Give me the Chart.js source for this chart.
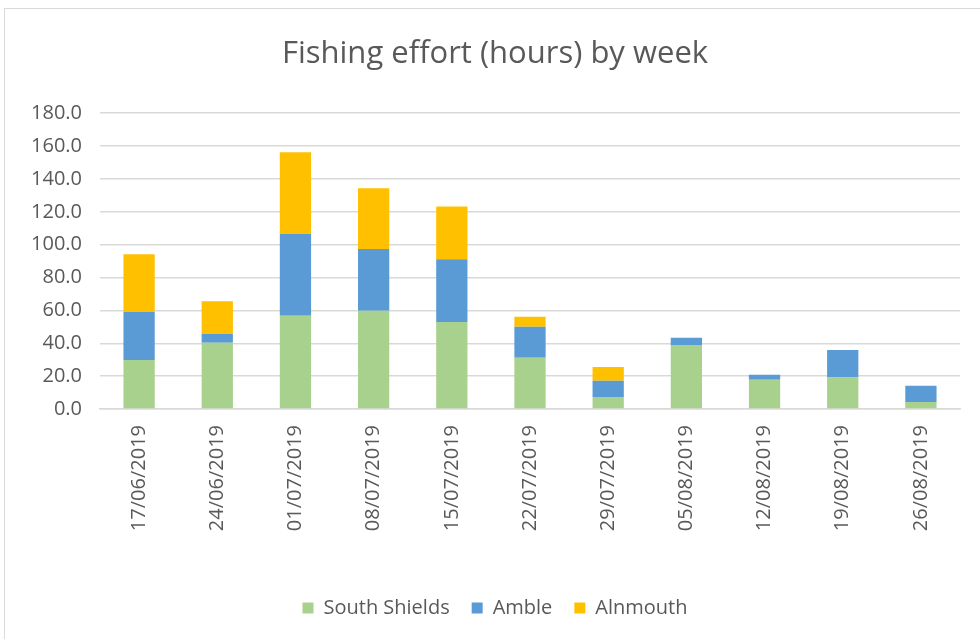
<!DOCTYPE html>
<html>
<head>
<meta charset="utf-8">
<title>Fishing effort by week</title>
<script src="https://cdn.jsdelivr.net/npm/chart.js@4/dist/chart.umd.min.js"></script>
<style>
    html, body {
        margin: 0;
        padding: 0;
        background: #ffffff;
        overflow: hidden;
    }
    #frame {
        position: absolute;
        left: 4px;
        top: 8px;
        width: 1000px;
        height: 700px;
        border: 1px solid #d9d9d9;
    }
    #effortChart {
        position: absolute;
        left: 0;
        top: 0;
    }
</style>
</head>
<body>
<div id="frame"></div>
<canvas id="effortChart" width="980" height="639"></canvas>

<script>
const weeks = [
    "17/06/2019", "24/06/2019", "01/07/2019", "08/07/2019", "15/07/2019", "22/07/2019",
    "29/07/2019", "05/08/2019", "12/08/2019", "19/08/2019", "26/08/2019"
];

// hours per site, one value per week
const southShields = [29.8, 40.3, 56.7, 59.8, 52.9, 31.2, 7.3, 38.9, 17.8, 19.2, 4.3];
const amble        = [29.3, 5.5, 50.0, 37.5, 38.3, 18.8, 9.9, 4.4, 3.1, 16.7, 9.9];
const alnmouth     = [35.1, 19.8, 49.5, 37.0, 32.0, 6.1, 8.3, 0, 0, 0, 0];

const textColour = "#595959";
const gridColour = "#d9d9d9";
const fontFamily = "'Open Sans', 'Liberation Sans', sans-serif";

const ctx = document.getElementById("effortChart");

new Chart(ctx, {
    type: "bar",
    data: {
        labels: weeks,
        datasets: [
            { label: "South Shields", data: southShields, backgroundColor: "#a9d18e" },
            { label: "Amble", data: amble, backgroundColor: "#5b9bd5" },
            { label: "Alnmouth", data: alnmouth, backgroundColor: "#ffc000" }
        ]
    },
    options: {
        responsive: false,
        animation: false,
        layout: {
            padding: { left: 30, right: 20, top: 0, bottom: 11 }
        },
        datasets: {
            bar: {
                barPercentage: 0.4,
                categoryPercentage: 1.0,
                borderWidth: 0
            }
        },
        plugins: {
            title: {
                display: true,
                text: "Fishing effort (hours) by week",
                color: textColour,
                font: { family: fontFamily, size: 31, weight: "normal" },
                padding: { top: 36, bottom: 40 }
            },
            legend: {
                position: "bottom",
                labels: {
                    color: textColour,
                    font: { family: fontFamily, size: 20 },
                    boxWidth: 11,
                    boxHeight: 11,
                    padding: 22
                }
            },
            tooltip: { enabled: false }
        },
        scales: {
            x: {
                stacked: true,
                grid: { display: false, drawTicks: false },
                border: { display: true, color: gridColour, width: 1.5 },
                ticks: {
                    color: textColour,
                    font: { family: fontFamily, size: 20 },
                    minRotation: 90,
                    maxRotation: 90,
                    padding: 16
                },
                afterFit(scale) {
                    scale.height = 167;
                }
            },
            y: {
                stacked: true,
                min: 0,
                max: 180,
                grid: { color: gridColour, lineWidth: 1.5, drawTicks: false },
                border: { display: false },
                ticks: {
                    stepSize: 20,
                    color: textColour,
                    font: { family: fontFamily, size: 20 },
                    padding: 18,
                    callback: value => value.toFixed(1)
                },
                afterFit(scale) {
                    scale.width = 70;
                }
            }
        }
    }
});
</script>
</body>
</html>
